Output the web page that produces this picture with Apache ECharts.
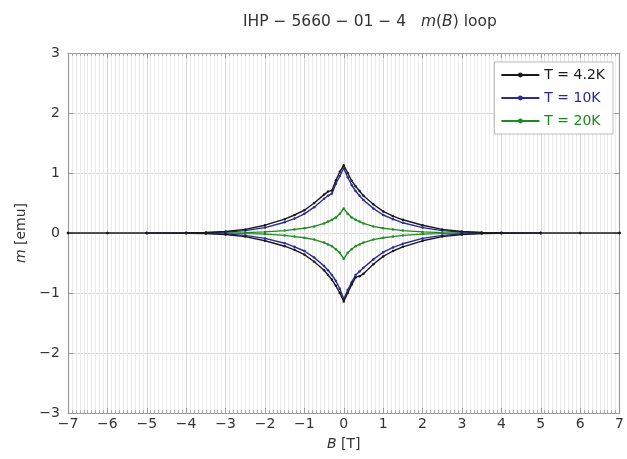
<!DOCTYPE html>
<html>
<head>
<meta charset="utf-8">
<script src="https://cdn.jsdelivr.net/npm/echarts@6/dist/echarts.min.js"></script>
<style>
  html, body { margin: 0; padding: 0; background: #fff; }
  #mb-loop { width: 627px; height: 459px; }
</style>
</head>
<body>
<div id="mb-loop"></div>
<script>
// field sweep points [T]
var field42 = [7, 6, 5, 4, 3.5, 3, 2.5, 2, 1.5, 1.25, 1, 0.75, 0.5, 0.4, 0.3, 0.2, 0.1, 0, -0.1, -0.2, -0.3, -0.4, -0.5, -0.75, -1, -1.25, -1.5, -2, -2.5, -3, -3.5, -4, -5, -6, -7];
var field10 = [5, 4, 3.5, 3, 2.5, 2, 1.5, 1.25, 1, 0.75, 0.5, 0.4, 0.3, 0.2, 0.1, 0, -0.1, -0.2, -0.3, -0.4, -0.5, -0.75, -1, -1.25, -1.5, -2, -2.5, -3, -3.5, -4, -5];
var field20 = [3, 2.5, 2, 1.5, 1.25, 1, 0.75, 0.5, 0.4, 0.3, 0.2, 0.1, 0, -0.1, -0.2, -0.3, -0.4, -0.5, -0.75, -1, -1.25, -1.5, -2, -2.5, -3];

// moment [emu], decreasing sweep (follows field order) and increasing sweep (reverse field order)
var down42 = [0, 0, 0, 0.003, 0.01, 0.025, 0.06, 0.13, 0.22, 0.28, 0.36, 0.48, 0.62, 0.7, 0.78, 0.87, 1.0, 1.13, 1.02, 0.88, 0.71, 0.69, 0.64, 0.5, 0.38, 0.3, 0.23, 0.13, 0.06, 0.025, 0.01, 0.003, 0, 0, 0];
var up42 = [0, 0, 0, -0.003, -0.01, -0.025, -0.06, -0.13, -0.22, -0.28, -0.36, -0.48, -0.62, -0.7, -0.78, -0.88, -1.0, -1.14, -1.0, -0.86, -0.74, -0.72, -0.68, -0.52, -0.39, -0.3, -0.23, -0.13, -0.06, -0.025, -0.01, -0.003, 0, 0, 0];
var down10 = [0, 0, 0.005, 0.015, 0.04, 0.09, 0.17, 0.23, 0.3, 0.41, 0.55, 0.62, 0.7, 0.8, 0.93, 1.08, 0.95, 0.82, 0.66, 0.62, 0.57, 0.43, 0.32, 0.24, 0.18, 0.09, 0.04, 0.015, 0.005, 0, 0];
var up10 = [0, 0, -0.005, -0.015, -0.04, -0.09, -0.17, -0.23, -0.3, -0.41, -0.55, -0.62, -0.7, -0.8, -0.93, -1.1, -0.95, -0.82, -0.7, -0.64, -0.58, -0.44, -0.32, -0.24, -0.18, -0.09, -0.04, -0.015, -0.005, 0, 0];
var down20 = [0, 0.006, 0.018, 0.04, 0.06, 0.08, 0.11, 0.16, 0.19, 0.22, 0.26, 0.32, 0.41, 0.32, 0.26, 0.22, 0.19, 0.16, 0.11, 0.08, 0.06, 0.04, 0.018, 0.006, 0];
var up20 = [0, -0.006, -0.018, -0.04, -0.06, -0.08, -0.11, -0.16, -0.19, -0.22, -0.27, -0.33, -0.43, -0.33, -0.27, -0.22, -0.19, -0.16, -0.11, -0.08, -0.06, -0.04, -0.018, -0.006, 0];

var names = ["T = 4.2K", "T = 10K", "T = 20K"];
var colors = ["#1a1a1a", "#2a2a9a", "#1f8a1f"];
var xTicks = [-7, 7, 1];
var yTicks = [-3, 3, 1];

function loop(field, down, up) {
  var pts = [];
  for (var i = 0; i < field.length; i++) pts.push([field[i], down[i]]);
  for (var j = field.length - 1; j >= 0; j--) pts.push([field[j], up[field.length - 1 - j]]);
  return pts;
}

var loops = [
  loop(field42, down42, up42),
  loop(field10, down10, up10),
  loop(field20, down20, up20)
];

var font = "DejaVu Sans";
var frame = { show: true, onZero: false, lineStyle: { color: "#9a9a9a", width: 1.2 } };
var minus = function (v) { return String(v).replace("-", "−"); };

var chart = echarts.init(document.getElementById("mb-loop"));
chart.setOption({
  animation: false,
  textStyle: { fontFamily: font },
  title: {
    text: "IHP − 5660 − 01 − 4   {i|m}({i|B}) loop",
    left: 238,
    top: 9,
    textStyle: {
      fontSize: 15.5,
      fontWeight: "normal",
      color: "#333",
      rich: { i: { fontStyle: "italic", fontSize: 15.5, color: "#333" } }
    }
  },
  grid: { left: 68, right: 1, top: 53, bottom: 46 },
  legend: {
    right: 14,
    top: 62,
    orient: "vertical",
    itemWidth: 38,
    itemHeight: 6,
    itemGap: 9,
    padding: [6, 8, 6, 6],
    borderColor: "#bbb",
    borderWidth: 1,
    backgroundColor: "#fff",
    data: names.map(function (n, i) {
      return { name: n, textStyle: { color: colors[i], fontSize: 14 } };
    })
  },
  xAxis: [
    {
      type: "value",
      min: xTicks[0],
      max: xTicks[1],
      interval: xTicks[2],
      name: "{i|B} [T]",
      nameLocation: "middle",
      nameGap: 24,
      nameTextStyle: { fontSize: 14, color: "#333", rich: { i: { fontStyle: "italic", fontSize: 14, color: "#333" } } },
      axisLine: frame,
      axisTick: { show: true, inside: true, length: 5, lineStyle: { color: "#999" } },
      minorTick: { show: true, splitNumber: 10, length: 3, lineStyle: { color: "#aaa" } },
      axisLabel: { fontSize: 14, color: "#333", margin: 4, formatter: minus },
      splitLine: { show: true, lineStyle: { color: "#d8d8d8", width: 1 } },
      minorSplitLine: { show: true, lineStyle: { color: "#ebebeb", width: 1 } }
    },
    {
      type: "value",
      position: "top",
      min: xTicks[0],
      max: xTicks[1],
      interval: xTicks[2],
      axisLine: frame,
      axisTick: { show: true, inside: true, length: 5, lineStyle: { color: "#999" } },
      minorTick: { show: true, splitNumber: 10, length: 3, lineStyle: { color: "#aaa" } },
      axisLabel: { show: false },
      splitLine: { show: false }
    }
  ],
  yAxis: [
    {
      type: "value",
      min: yTicks[0],
      max: yTicks[1],
      interval: yTicks[2],
      name: "{i|m} [emu]",
      nameLocation: "middle",
      nameGap: 36,
      nameTextStyle: { fontSize: 14, color: "#333", rich: { i: { fontStyle: "italic", fontSize: 14, color: "#333" } } },
      axisLine: frame,
      axisTick: { show: true, inside: true, length: 5, lineStyle: { color: "#999" } },
      axisLabel: { fontSize: 14, color: "#333", margin: 8, formatter: minus },
      splitLine: { show: true, lineStyle: { color: "#d8d8d8", width: 1 } }
    },
    {
      type: "value",
      position: "right",
      min: yTicks[0],
      max: yTicks[1],
      interval: yTicks[2],
      axisLine: frame,
      axisTick: { show: true, inside: true, length: 5, lineStyle: { color: "#999" } },
      axisLabel: { show: false },
      splitLine: { show: false }
    }
  ],
  series: loops.map(function (pts, i) {
    return {
      name: names[i],
      type: "line",
      data: pts,
      symbol: "circle",
      symbolSize: 2.5,
      showSymbol: true,
      color: colors[i],
      lineStyle: { width: 1.4, color: colors[i] },
      itemStyle: { color: colors[i] },
      z: 3 - i
    };
  })
});
</script>
</body>
</html>
